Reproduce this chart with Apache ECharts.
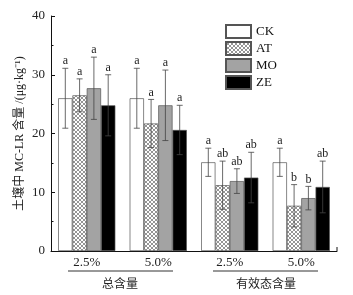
<!DOCTYPE html>
<html>
<head>
<meta charset="utf-8">
<script src="https://cdn.jsdelivr.net/npm/echarts@6/dist/echarts.min.js"></script>
<style>
html,body{margin:0;padding:0;background:#fff;}
#chart{width:353px;height:295px;}
</style>
</head>
<body>
<div id="chart"></div>
<script>
var categories = ['2.5%', '5.0%', '2.5%', '5.0%'];
var groupNames = ['总含量', '有效态含量'];
var seriesNames = ['CK', 'AT', 'MO', 'ZE'];

var ckVal = [26.0, 26.0, 15.1, 15.1];
var atVal = [26.5, 21.7, 11.2, 7.7];
var moVal = [27.7, 24.8, 11.9, 9.0];
var zeVal = [24.8, 20.6, 12.5, 10.9];

var ckErr = [5.1, 5.1, 2.4, 2.4];
var atErr = [2.8, 4.1, 4.1, 3.6];
var moErr = [5.3, 6.0, 2.1, 2.0];
var zeErr = [5.2, 4.2, 4.3, 4.4];

var ckSig = ['a', 'a', 'a', 'a'];
var atSig = ['a', 'a', 'ab', 'b'];
var moSig = ['a', 'a', 'ab', 'b'];
var zeSig = ['a', 'a', 'ab', 'ab'];

var font = '"Liberation Serif", "Times New Roman", "Noto Sans CJK SC", serif';

var chart = echarts.init(document.getElementById('chart'));

// cross hatch for AT
function hatch(){
    var c = document.createElement('canvas');
    c.width = 4; c.height = 4;
    var g = c.getContext('2d');
    g.fillStyle = '#fff';
    g.fillRect(0, 0, 4, 4);
    g.strokeStyle = '#7a7a7a';
    g.lineWidth = 0.8;
    g.beginPath();
    g.moveTo(0, 0); g.lineTo(4, 4);
    g.moveTo(4, 0); g.lineTo(0, 4);
    g.stroke();
    return c;
}

var fills = ['#ffffff', {image: hatch(), repeat: 'repeat'}, '#a3a3a3', '#000000'];
var vals = [ckVal, atVal, moVal, zeVal];
var errs = [ckErr, atErr, moErr, zeErr];
var sigs = [ckSig, atSig, moSig, zeSig];

var series = [];
seriesNames.forEach(function(name, i){
    series.push({
        name: name,
        type: 'bar',
        data: vals[i],
        barGap: '0%',
        barCategoryGap: '20%',
        itemStyle: {color: fills[i], borderColor: '#555', borderWidth: 0.7},
        emphasis: {disabled: true}
    });
});

seriesNames.forEach(function(name, i){
    var d = vals[i].map(function(v, k){ return [k, v, errs[i][k], sigs[i][k]]; });
    series.push({
        type: 'custom',
        data: d,
        z: 10,
        silent: true,
        renderItem: function(params, api){
            var k = api.value(0);
            var band = api.size([1, 0])[0];
            var bw = band * 0.8 / 4;
            var c = api.coord([k, api.value(1)]);
            var x = c[0] + (i - 1.5) * bw;
            var top = api.coord([k, api.value(1) + api.value(2)])[1];
            var bot = api.coord([k, api.value(1) - api.value(2)])[1];
            var cap = 3;
            var st = {stroke: '#444', lineWidth: 0.8};
            return {
                type: 'group',
                children: [
                    {type: 'line', shape: {x1: x, y1: top, x2: x, y2: bot}, style: st},
                    {type: 'line', shape: {x1: x - cap, y1: top, x2: x + cap, y2: top}, style: st},
                    {type: 'line', shape: {x1: x - cap, y1: bot, x2: x + cap, y2: bot}, style: st},
                    {type: 'text', x: x, y: top - 1, style: {
                        text: sigs[i][k], fill: '#222', font: '12px ' + font,
                        textAlign: 'center', textVerticalAlign: 'bottom'
                    }}
                ]
            };
        }
    });
});

var option = {
    animation: false,
    textStyle: {fontFamily: font},
    grid: {left: 51, right: 16, top: 16, bottom: 44, containLabel: false, outerBoundsMode: 'none'},
    legend: {
        data: seriesNames,
        orient: 'vertical',
        left: 220,
        top: 19,
        itemWidth: 25,
        itemHeight: 13,
        itemGap: 2,
        textStyle: {fontFamily: font, fontSize: 13, color: '#111'},
        icon: 'rect'
    },
    xAxis: {
        type: 'category',
        data: categories,
        axisLine: {lineStyle: {color: '#111', width: 1}},
        axisTick: {show: false},
        axisLabel: {color: '#222', fontSize: 13, fontFamily: font, margin: 5},
        splitLine: {show: false}
    },
    yAxis: {
        type: 'value',
        min: 0,
        max: 40,
        interval: 10,
        name: '土壤中 MC-LR 含量 /(μg·kg⁻¹)',
        nameLocation: 'middle',
        nameGap: 25,
        nameMoveOverlap: false,
        nameTextStyle: {fontSize: 12, color: '#222', fontFamily: font},
        axisLine: {show: true, lineStyle: {color: '#111', width: 1}},
        axisTick: {show: true, inside: true, length: 4, lineStyle: {color: '#111'}},
        minorTick: {show: true, splitNumber: 2, length: 2.5, lineStyle: {color: '#111'}},
        axisLabel: {color: '#222', fontSize: 13, fontFamily: font, margin: 6},
        splitLine: {show: false}
    },
    graphic: [
        {type: 'line', shape: {x1: 68, y1: 271, x2: 173, y2: 271}, style: {stroke: '#333', lineWidth: 1}},
        {type: 'line', shape: {x1: 213, y1: 271, x2: 318, y2: 271}, style: {stroke: '#333', lineWidth: 1}},
        {type: 'line', shape: {x1: 337, y1: 251, x2: 337, y2: 247}, style: {stroke: '#111', lineWidth: 1}},
        {type: 'text', x: 120, y: 283, style: {text: groupNames[0], font: '12px "Noto Sans CJK SC"', fill: '#222', textAlign: 'center', textVerticalAlign: 'middle'}},
        {type: 'text', x: 266, y: 283, style: {text: groupNames[1], font: '12px "Noto Sans CJK SC"', fill: '#222', textAlign: 'center', textVerticalAlign: 'middle'}}
    ],
    series: series
};
chart.setOption(option);
</script>
</body>
</html>
